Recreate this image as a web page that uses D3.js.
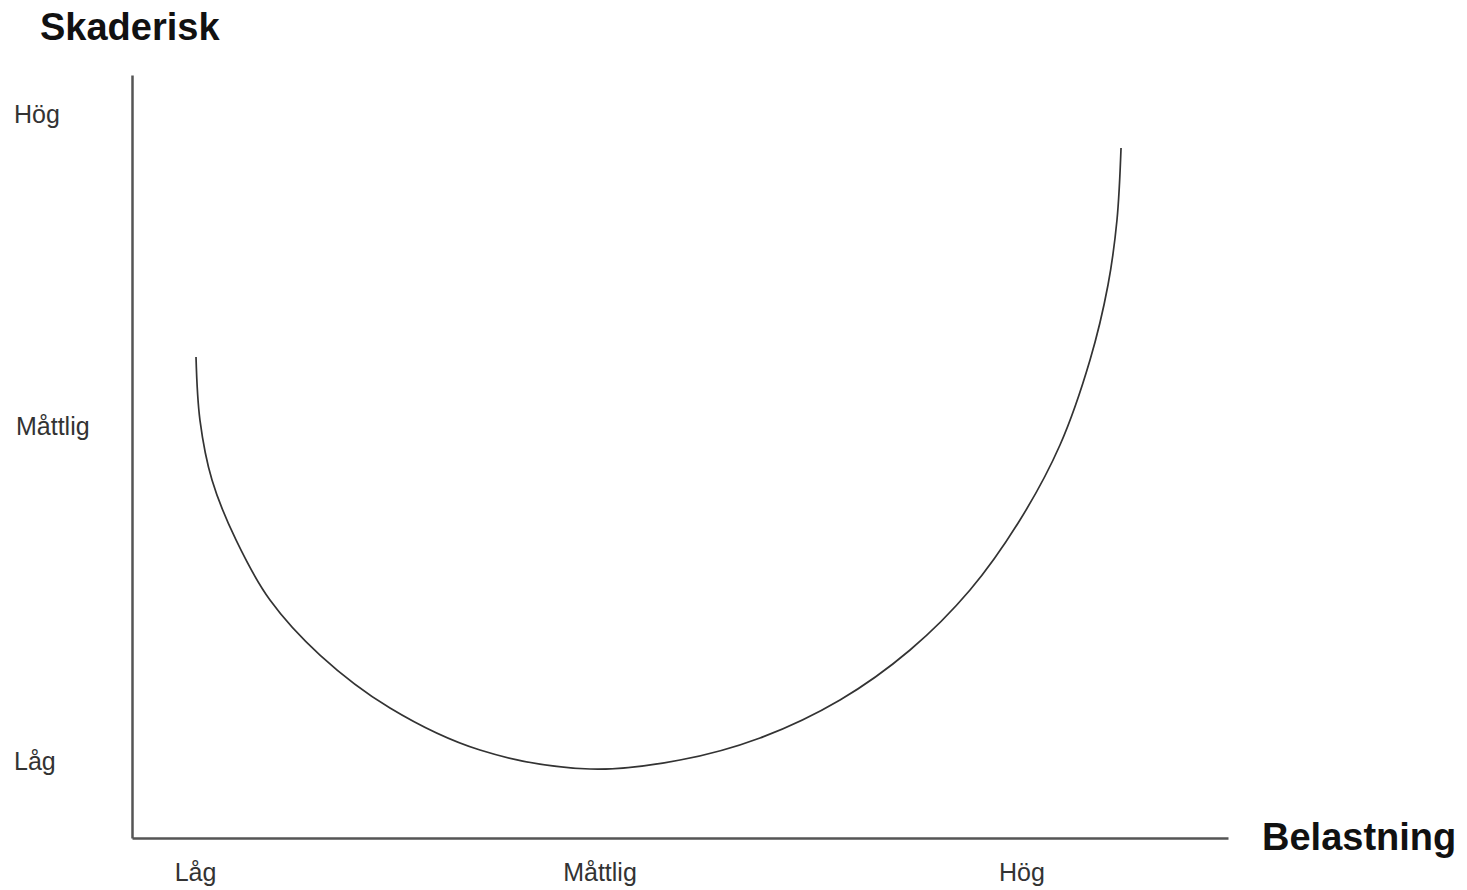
<!DOCTYPE html>
<html>
<head>
<meta charset="utf-8">
<script src="https://cdn.jsdelivr.net/npm/d3@7"></script>
<style>
  body { margin: 0; background: #fff; }
  text { font-family: "Liberation Sans", Arial, sans-serif; }
</style>
</head>
<body>
<div id="chart"></div>
<script>
// levels on both axes
const levels = ["Låg", "Måttlig", "Hög"];
// where each level sits on the x axis (0-100 units)
const xLevelPos = [5.8, 42.7, 81.2];
// where each level sits on the y axis (0-100 units)
const yLevelPos = [10.1, 53.9, 94.8];

// the U-shaped risk curve
const curveX = [5.84, 6.2, 7.3, 9.49, 12.59, 17.15, 23.54, 31.75, 41.79,
                50.0, 57.3, 64.6, 70.99, 76.46, 81.02, 84.67, 87.41, 89.05, 89.87, 90.24];
const curveY = [63.04, 54.78, 46.92, 39.06, 31.19, 23.98, 17.04, 11.53, 9.04,
                10.22, 13.11, 18.09, 24.64, 32.5, 41.68, 51.51, 62.65, 72.48, 81.0, 90.43];

const W = 1467, H = 890;

const svg = d3.select("#chart")
  .append("svg")
    .attr("width", W)
    .attr("height", H);

let x = d3.scaleLinear()
    .domain([0, 100])
    .range([132, 1228]);

let y = d3.scaleLinear()
    .domain([0, 100])
    .range([838, 75]);

// axes (only the domain lines, no ticks)
const axisColor = "#555";

svg.append("g")
    .attr("transform", "translate(0," + y(0) + ")")
    .call(d3.axisBottom(x).tickValues([]).tickSizeOuter(0))
    .select(".domain")
      .attr("stroke", axisColor)
      .attr("stroke-width", 2.5);

svg.append("g")
    .attr("transform", "translate(" + x(0) + ",0)")
    .call(d3.axisLeft(y).tickValues([]).tickSizeOuter(0))
    .select(".domain")
      .attr("stroke", axisColor)
      .attr("stroke-width", 2.5);

// level labels on x
svg.selectAll("xlabels")
  .data(levels)
  .enter()
  .append("text")
    .attr("x", (d, i) => x(xLevelPos[i]))
    .attr("y", 881)
    .attr("text-anchor", "middle")
    .style("font-size", "25px")
    .style("fill", "#333")
    .text(d => d);

// level labels on y
svg.selectAll("ylabels")
  .data(levels)
  .enter()
  .append("text")
    .attr("x", (d, i) => i === 1 ? 16 : 14)
    .attr("y", (d, i) => y(yLevelPos[i]))
    .attr("dy", "0.35em")
    .style("font-size", "25px")
    .style("fill", "#333")
    .text(d => d);

// the curve
const pts = curveX.map((v, i) => [v, curveY[i]]);
const line = d3.line()
    .x(d => x(d[0]))
    .y(d => y(d[1]))
    .curve(d3.curveCatmullRom.alpha(0.5));

svg.append("path")
    .datum(pts)
    .attr("d", line)
    .attr("fill", "none")
    .attr("stroke", "#333")
    .attr("stroke-width", 1.7);

// axis titles
svg.append("text")
    .attr("x", 40)
    .attr("y", 40)
    .style("font-size", "38px")
    .style("font-weight", "bold")
    .style("fill", "#111")
    .text("Skaderisk");

svg.append("text")
    .attr("x", 1262)
    .attr("y", 850)
    .style("font-size", "38px")
    .style("font-weight", "bold")
    .style("fill", "#111")
    .text("Belastning");
</script>
</body>
</html>
